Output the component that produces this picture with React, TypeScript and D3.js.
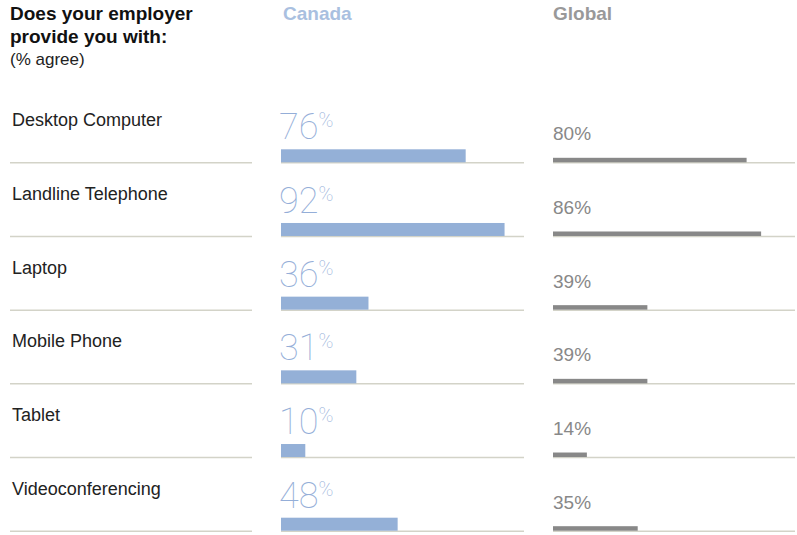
import * as d3 from 'd3'

const categories = [
  'Desktop Computer',
  'Landline Telephone',
  'Laptop',
  'Mobile Phone',
  'Tablet',
  'Videoconferencing',
]
const canada = [76, 92, 36, 31, 10, 48]
const global = [80, 86, 39, 39, 14, 35]

const width = 797
const height = 535
const lineColor = '#d3d3c8'
const blue = '#94b0d7'
const blueText = '#a9c0e0'
const gray = '#888888'
const sans = '"Liberation Sans", Arial, Helvetica, sans-serif'

export default function App() {
  // row baseline positions (the rule each bar sits on)
  const y = d3.scaleLinear([0, categories.length - 1], [162.3, 530.7])
  const xCanada = d3.scaleLinear([0, 100], [281, 524])
  const xGlobal = d3.scaleLinear([0, 100], [553, 795])

  return (
    <svg
      width={width}
      height={height}
      style={{ position: 'absolute', left: 0, top: 0, background: '#fff' }}
      fontFamily={sans}
    >
      <text x={10} y={20} fontSize={19} fontWeight="bold" fill="#111">
        Does your employer
      </text>
      <text x={10} y={43} fontSize={19} fontWeight="bold" fill="#111">
        provide you with:
      </text>
      <text x={10} y={65} fontSize={17} fill="#222">
        (% agree)
      </text>
      <text x={283} y={20} fontSize={19} fontWeight="bold" fill={blueText}>
        Canada
      </text>
      <text x={553} y={20} fontSize={19} fontWeight="bold" fill="#999">
        Global
      </text>

      {categories.map((c, i) => {
        const base = y(i)
        return (
          <g key={c}>
            <text x={12} y={base - 36} fontSize={18} fill="#222">
              {c}
            </text>
            <line x1={10} x2={252} y1={base + 0.5} y2={base + 0.5} stroke={lineColor} strokeWidth={1.5} />
            <line
              x1={xCanada(0)}
              x2={xCanada(100)}
              y1={base + 0.5}
              y2={base + 0.5}
              stroke={lineColor}
              strokeWidth={1.5}
            />
            <line
              x1={xGlobal(0)}
              x2={xGlobal(100)}
              y1={base + 0.5}
              y2={base + 0.5}
              stroke={lineColor}
              strokeWidth={1.5}
            />
            <rect
              x={xCanada(0)}
              y={base - 13}
              width={xCanada(canada[i]) - xCanada(0)}
              height={13}
              fill={blue}
            />
            <rect
              x={xGlobal(0)}
              y={base - 4.5}
              width={xGlobal(global[i]) - xGlobal(0)}
              height={4.5}
              fill={gray}
            />
            <text
              x={xCanada(0) - 2}
              y={base - 23}
              fill="#94aed8"
              fontFamily='Roboto, "Liberation Sans", sans-serif'
              fontWeight={100}
            >
              <tspan fontSize={36}>{canada[i]}</tspan>
              <tspan fontSize={20} dy={-12}>%</tspan>
            </text>
            <text x={xGlobal(0)} y={base - 22} fontSize={19} fill="#888">
              {global[i]}%
            </text>
          </g>
        )
      })}
    </svg>
  )
}
